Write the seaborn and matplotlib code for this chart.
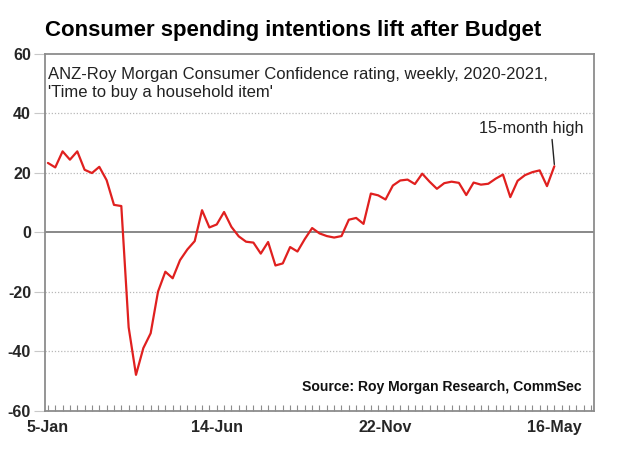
import numpy as np
import pandas as pd
import matplotlib
matplotlib.use('Agg')
import matplotlib.pyplot as plt
import seaborn as sns

# weekly 'Time to buy a household item' rating, 5-Jan-2020 .. 16-May-2021
rating = [23.3, 21.8, 27.2, 24.4, 27.2, 21.0, 19.9, 22.0, 17.5, 9.2,
          8.8, -32.0, -48.0, -39.0, -34.0, -20.0, -13.3, -15.5, -9.4, -5.8,
          -3.0, 7.4, 1.6, 2.6, 6.8, 1.8, -1.4, -3.2, -3.5, -7.2,
          -3.3, -11.2, -10.5, -5.0, -6.5, -2.3, 1.4, -0.4, -1.3, -1.8,
          -1.3, 4.2, 4.8, 2.8, 13.0, 12.4, 11.0, 15.7, 17.4, 17.7,
          16.2, 19.7, 17.0, 14.6, 16.5, 17.0, 16.6, 12.5, 16.7, 16.0,
          16.3, 18.0, 19.4, 11.8, 17.3, 19.2, 20.2, 20.8, 15.5, 22.2]
week = list(range(len(rating)))
tick_weeks = [0, 23, 46, 69]
tick_labels = ['5-Jan', '14-Jun', '22-Nov', '16-May']
y_ticks = [-60, -40, -20, 0, 20, 40, 60]

df = pd.DataFrame({'week': week, 'rating': rating})

sns.set_style('white')
plt.rcParams['font.family'] = ['Liberation Sans', 'DejaVu Sans']

fig = plt.figure(figsize=(6.3, 4.49), dpi=100)
ax = fig.add_axes([0.0714, 0.0857, 0.8714, 0.7943])

grey = '#8c8c8c'
for y in [-40, -20, 20, 40]:
    ax.axhline(y, color='#b8b8b8', linestyle=(0, (1, 1.5)), linewidth=0.9, zorder=1)
ax.axhline(0, color='#7f7f7f', linewidth=1.3, zorder=1)

sns.lineplot(data=df, x='week', y='rating', color='#e0201f', linewidth=1.6, ax=ax, zorder=3)

ax.set_xlim(-0.4, 74.4)
ax.set_ylim(-60, 60)
ax.set_yticks(y_ticks)
ax.set_yticklabels([str(v) for v in y_ticks], fontsize=11.5, fontweight='bold')
ax.set_xticks(tick_weeks)
ax.set_xticklabels(tick_labels, fontsize=11.5, fontweight='bold')
ax.set_xticks(np.arange(0, 75), minor=True)
ax.tick_params(axis='x', which='both', bottom=True, direction='in', length=4, width=0.8,
               color=grey, pad=7)
ax.tick_params(axis='y', left=True, direction='out', length=8, width=0.8, color='#c8c8c8', pad=2)
ax.set_xlabel('')
ax.set_ylabel('')
for s in ax.spines.values():
    s.set_color(grey)
    s.set_linewidth(1.3)

ax.text(0.006, 0.962, "ANZ-Roy Morgan Consumer Confidence rating, weekly, 2020-2021,\n'Time to buy a household item'",
        transform=ax.transAxes, ha='left', va='top', fontsize=12, color='#222222', linespacing=1.2)
ax.annotate('15-month high', xy=(69, 22.8), xytext=(65.8, 32.3),
            ha='center', va='bottom', fontsize=11.8, color='#222222',
            arrowprops=dict(arrowstyle='-', color='#222222', lw=1, shrinkA=0, shrinkB=0,
                            relpos=(0.7, 0)))
ax.text(0.977, 0.045, 'Source: Roy Morgan Research, CommSec', transform=ax.transAxes,
        ha='right', va='bottom', fontsize=10.1, fontweight='bold', color='#111111')

fig.text(0.0714, 0.92, 'Consumer spending intentions lift after Budget', ha='left', va='baseline',
         fontsize=16, fontweight='bold', color='black')

fig.savefig('out.png', dpi=100, facecolor='white')
